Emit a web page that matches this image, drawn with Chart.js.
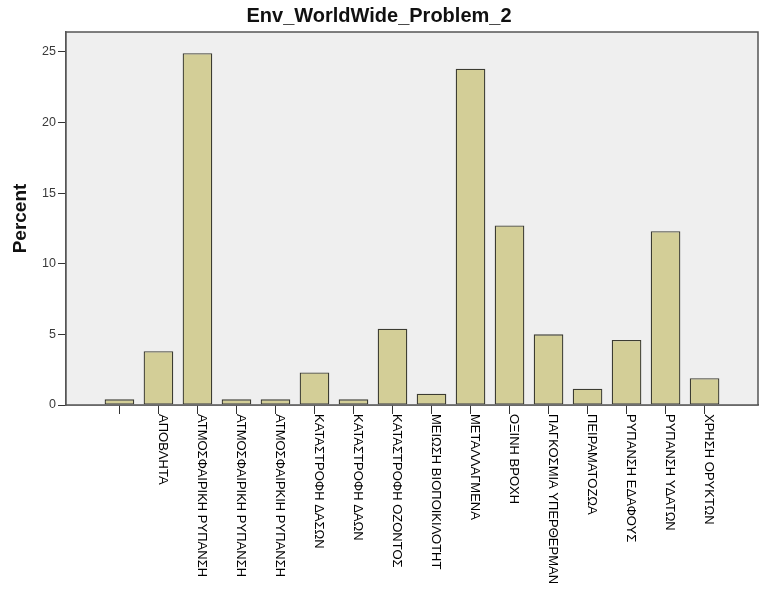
<!DOCTYPE html>
<html>
<head>
<meta charset="utf-8">
<script src="https://cdn.jsdelivr.net/npm/chart.js@4/dist/chart.umd.min.js"></script>
<style>
	body { margin: 0; background: #ffffff; }
	canvas { display: block; }
</style>
</head>
<body>
<canvas id="chart" width="762" height="592"></canvas>
<script>
// categories (SPSS value labels, as in the data file)
const categories = [
	'',
	'ΑΠΟΒΛΗΤΑ',
	'ΑΤΜΟΣΦΑΙΡΙΚΗ ΡΥΠΑΝΣΗ',
	'ΑΤΜΟΣΦΑΙΡΙΚΗ ΡΥΠΑΝΣΗ ',
	'ΑΤΜΟΣΦΑΙΡΚΙΗ ΡΥΠΑΝΣΗ',
	'ΚΑΤΑΣΤΡΟΦΗ ΔΑΣΩΝ',
	'ΚΑΤΑΣΤΡΟΦΗ ΔΑΩΝ',
	'ΚΑΤΑΣΤΡΟΦΗ ΟΖΟΝΤΟΣ',
	'ΜΕΙΩΣΗ ΒΙΟΠΟΙΚΙΛΟΤΗΤ',
	'ΜΕΤΑΛΛΑΓΜΕΝΑ',
	'ΟΞΙΝΗ ΒΡΟΧΗ',
	'ΠΑΓΚΟΣΜΙΑ ΥΠΕΡΘΕΡΜΑΝ',
	'ΠΕΙΡΑΜΑΤΟΖΩΑ',
	'ΡΥΠΑΝΣΗ ΕΔΑΦΟΥΣ',
	'ΡΥΠΑΝΣΗ ΥΔΑΤΩΝ',
	'ΧΡΗΣΗ ΟΡΥΚΤΩΝ'
];

// percent per category
const percents = [0.4, 3.8, 24.9, 0.4, 0.4, 2.3, 0.4, 5.4, 0.8, 23.8, 12.7, 5.0, 1.15, 4.6, 12.3, 1.9];

const yTicks = [0, 5, 10, 15, 20, 25];
const yMax = 26.4;

const chartTitle = 'Env_WorldWide_Problem_2';
const yTitle = 'Percent';

const catIndex = categories.map((c, i) => i);

// fond gris + cadre du graphe (style SPSS)
const plotFrame = {
	id: 'plotFrame',
	beforeDatasetsDraw(chart) {
		const a = chart.chartArea;
		const ctx = chart.ctx;
		ctx.save();
		ctx.fillStyle = '#efefef';
		ctx.fillRect(a.left, a.top, a.right - a.left, a.bottom - a.top);
		ctx.restore();
	},
	afterDraw(chart) {
		const a = chart.chartArea;
		const ctx = chart.ctx;
		ctx.save();
		ctx.strokeStyle = '#555555';
		ctx.lineWidth = 1.5;
		ctx.strokeRect(a.left, a.top, a.right - a.left, a.bottom - a.top);
		ctx.restore();
	}
};

// labels de l'axe x tournés dans le sens horaire (lecture de haut en bas)
const verticalLabels = {
	id: 'verticalLabels',
	afterDraw(chart) {
		const xs = chart.scales.x;
		const ctx = chart.ctx;
		ctx.save();
		ctx.fillStyle = '#000000';
		ctx.font = '13px "Liberation Sans", Arial, sans-serif';
		ctx.textAlign = 'left';
		ctx.textBaseline = 'alphabetic';
		catIndex.forEach(i => {
			const x = xs.getPixelForValue(i);
			ctx.save();
			ctx.translate(x + 0.5, chart.chartArea.bottom + 9);
			ctx.rotate(Math.PI / 2);
			ctx.fillText(categories[i], 0, 0);
			ctx.restore();
		});
		ctx.restore();
	}
};

const config = {
	type: 'bar',
	data: {
		datasets: [{
			label: yTitle,
			data: catIndex.map(i => ({ x: i, y: percents[i] })),
			backgroundColor: '#d3ce97',
			borderColor: '#3c3c32',
			borderWidth: 1.3,
			borderSkipped: false,
			categoryPercentage: 0.76,
			barPercentage: 1
		}]
	},
	options: {
		responsive: false,
		animation: false,
		devicePixelRatio: 1,
		layout: { padding: { left: 0, right: 4, top: 0, bottom: 0 } },
		plugins: {
			legend: { display: false },
			tooltip: { enabled: false },
			title: {
				display: true,
				text: chartTitle,
				color: '#111111',
				font: { family: '"Liberation Sans", Arial, sans-serif', size: 20, weight: 'bold' },
				padding: { top: 4, bottom: 4 }
			}
		},
		scales: {
			x: {
				type: 'linear',
				offset: false,
				min: -1.37,
				max: categories.length - 1 + 1.37,
				afterBuildTicks: scale => { scale.ticks = catIndex.map(v => ({ value: v })); },
				afterFit: scale => { scale.height = 187; },
				ticks: { display: false },
				grid: { offset: false, drawOnChartArea: false, drawTicks: true, tickLength: 9, color: '#333333', lineWidth: 1 },
				border: { display: true, color: '#555555', width: 1.5 }
			},
			y: {
				min: 0,
				max: yMax,
				afterBuildTicks: scale => { scale.ticks = yTicks.map(v => ({ value: v })); },
				afterFit: scale => { scale.width = 66; },
				ticks: {
					color: '#3a3a3a',
					padding: 2,
					font: { family: '"Liberation Sans", Arial, sans-serif', size: 12.5 }
				},
				grid: { drawOnChartArea: false, drawTicks: true, tickLength: 8, color: '#333333', lineWidth: 1 },
				border: { display: true, color: '#555555', width: 1.5 },
				title: {
					display: true,
					text: yTitle,
					color: '#111111',
					font: { family: '"Liberation Sans", Arial, sans-serif', size: 19, weight: 'bold' },
					padding: { top: 9, bottom: 0 }
				}
			}
		}
	},
	plugins: [plotFrame, verticalLabels]
};

new Chart(document.getElementById('chart').getContext('2d'), config);
</script>
</body>
</html>
